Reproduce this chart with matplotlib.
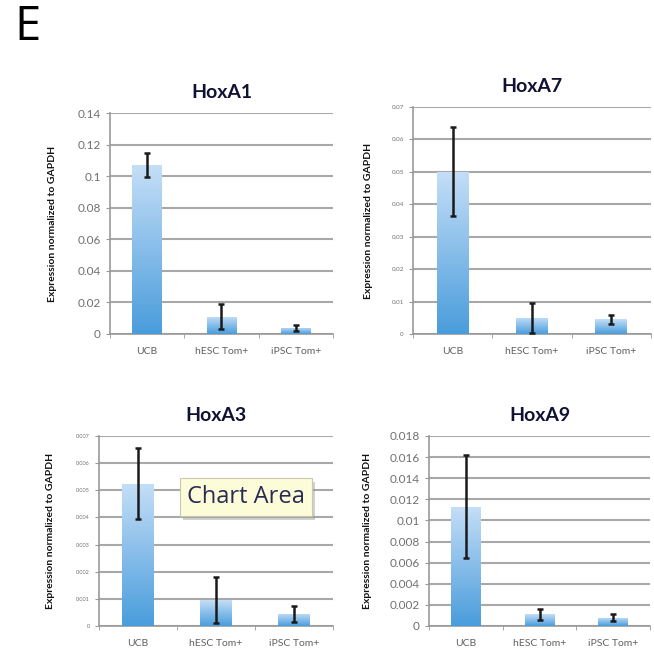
import matplotlib
matplotlib.use("Agg")
import matplotlib.pyplot as plt
import matplotlib.patheffects as pe
import numpy as np
from matplotlib.colors import LinearSegmentedColormap

plt.rcParams['font.family'] = ['Lato', 'DejaVu Sans']

categories = ["UCB", "hESC Tom+", "iPSC Tom+"]

titles = ["HoxA1", "HoxA7", "HoxA3", "HoxA9"]
values = {
    "HoxA1": [0.107, 0.011, 0.004],
    "HoxA7": [0.050, 0.005, 0.0045],
    "HoxA3": [0.00525, 0.00095, 0.00045],
    "HoxA9": [0.0113, 0.0011, 0.0008],
}
errors = {
    "HoxA1": [0.0075, 0.008, 0.002],
    "HoxA7": [0.0137, 0.0046, 0.0015],
    "HoxA3": [0.0013, 0.00085, 0.0003],
    "HoxA9": [0.0049, 0.0005, 0.0003],
}
ymax = {"HoxA1": 0.14, "HoxA7": 0.07, "HoxA3": 0.007, "HoxA9": 0.018}
ystep = {"HoxA1": 0.02, "HoxA7": 0.01, "HoxA3": 0.001, "HoxA9": 0.002}
tick_labels = {
    "HoxA1": ["0", "0.02", "0.04", "0.06", "0.08", "0.1", "0.12", "0.14"],
    "HoxA7": ["0", "0.01", "0.02", "0.03", "0.04", "0.05", "0.06", "0.07"],
    "HoxA3": ["0", "0.001", "0.002", "0.003", "0.004", "0.005", "0.006", "0.007"],
    "HoxA9": ["0", "0.002", "0.004", "0.006", "0.008", "0.01", "0.012",
              "0.014", "0.016", "0.018"],
}

W, H = 654, 666
# axes boxes in pixels: left, top, right, bottom
boxes = {
    "HoxA1": (110, 113, 333, 334),
    "HoxA7": (413, 107, 651, 334),
    "HoxA3": (99, 436, 333, 626),
    "HoxA9": (429, 436, 650, 626),
}
tick_fs = {"HoxA1": 8.5, "HoxA7": 4.5, "HoxA3": 4, "HoxA9": 8.5}
ylabel_x = {"HoxA1": 57, "HoxA7": 373, "HoxA3": 55, "HoxA9": 372}

cmap = LinearSegmentedColormap.from_list("bar", ["#4a9ddc", "#c4def7"])
grad = np.linspace(0, 1, 100).reshape(-1, 1)

fig = plt.figure(figsize=(W / 100, H / 100), dpi=100)
fig.text(14 / W, 1 - 27 / H, "E", fontsize=34, va="center", ha="left",
         family=["Open Sans", "DejaVu Sans"])

for name in titles:
    l, t, r, b = boxes[name]
    ax = fig.add_axes([l / W, 1 - b / H, (r - l) / W, (b - t) / H])
    x = np.arange(len(categories))
    bars = ax.bar(x, values[name], width=0.4, color="none", zorder=3)
    for bar in bars:
        bx, by = bar.get_x(), bar.get_y()
        im = ax.imshow(grad, cmap=cmap, origin="lower", aspect="auto",
                       extent=[bx, bx + bar.get_width(), by, by + bar.get_height()],
                       zorder=3)
        im.set_clip_path(bar)
    ax.errorbar(x, values[name], yerr=errors[name], fmt="none", ecolor="#1a1a1a",
                elinewidth=1.8, capsize=2.5, capthick=1.8, zorder=4)
    ax.set_xlim(-0.5, 2.5)
    ax.set_ylim(0, ymax[name])
    ticks = np.arange(0, ymax[name] + ystep[name] / 2, ystep[name])
    ax.set_yticks(ticks)
    ax.set_yticklabels(tick_labels[name])
    ax.set_xticks(x)
    ax.set_xticklabels(categories)
    ax.set_xticks([-0.5, 0.5, 1.5, 2.5], minor=True)
    ax.tick_params(axis="x", which="major", length=0, labelsize=7.5,
                   labelcolor="#606060", pad=9)
    ax.tick_params(axis="x", which="minor", length=3, color="#999999")
    ax.tick_params(axis="y", length=3, color="#999999", labelsize=tick_fs[name],
                   labelcolor="#707070")
    ax.grid(axis="y", color="#a8a8a8", linewidth=1.5, zorder=0)
    ax.set_axisbelow(True)
    for s in ["top", "right"]:
        ax.spines[s].set_visible(False)
    for s in ["left", "bottom"]:
        ax.spines[s].set_color("#999999")
        ax.spines[s].set_linewidth(1.2)
    ax.set_ylabel("Expression normalized to GAPDH", fontsize=7.5,
                  fontweight="bold", color="#111111")
    ax.yaxis.set_label_coords((ylabel_x[name] - l) / (r - l), 0.5)
    ax.set_title(name, fontsize=14, fontweight="bold", pad=11, color="#111133")

# tooltip shown over the HoxA3 chart, with a soft shadow underneath
tip = fig.text(246 / W, 1 - 497 / H, "Chart Area", fontsize=17, color="#2a2a55",
               ha="center", va="center",
               family=["Lucida Grande", "Open Sans", "DejaVu Sans"],
               bbox=dict(boxstyle="square,pad=0.3", facecolor="#fcfdd8",
                         edgecolor="#c8c8b0", linewidth=0.8))
tip.get_bbox_patch().set_path_effects([
    pe.SimplePatchShadow(offset=(2, -3), shadow_rgbFace="#999999", alpha=0.45),
    pe.Normal(),
])

fig.savefig("out.png", dpi=100)
